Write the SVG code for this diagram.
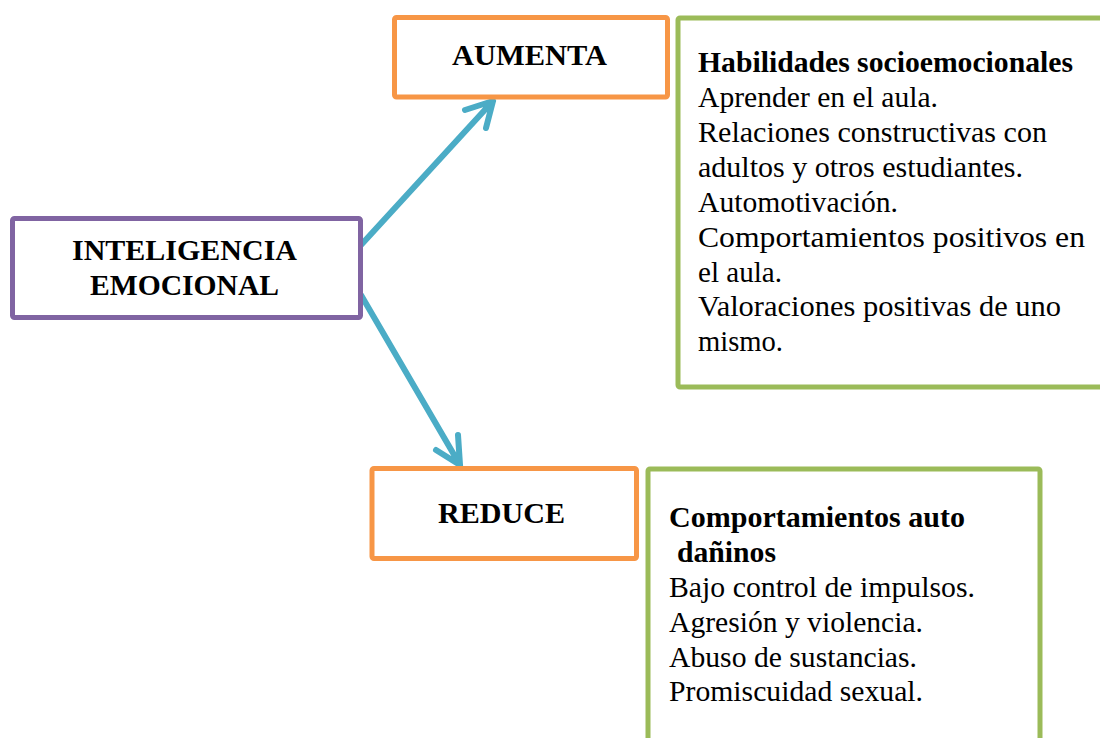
<svg xmlns="http://www.w3.org/2000/svg" width="1100" height="738" viewBox="0 0 1100 738">
<style>
.box{fill:#fff;stroke-width:5;stroke-linejoin:round}
.p{stroke:#8064A2}
.o{stroke:#F79646}
.g{stroke:#9BBB59}
.t{font-family:"Liberation Serif","Times New Roman",serif;font-size:29px;fill:#000}
.b{font-weight:bold}
.h{font-weight:bold;font-size:30px}
.arr{fill:none;stroke:#4BACC6;stroke-width:6;stroke-linecap:round;stroke-linejoin:round}
</style>
<rect width="1100" height="738" fill="#fff"/>
<g id="connectors">
<path class="arr" d="M361,245 L493,101 M465,110 L493,101 L486,128"/>
<path class="arr" d="M361,295 L460,465 M436,450 L460,465 L458,435"/>
</g>
<g id="inteligencia">
<rect class="box p" x="12.5" y="218.5" width="348" height="99" rx="2"/>
<text class="t h" x="72" y="260" textLength="225" lengthAdjust="spacingAndGlyphs">INTELIGENCIA</text>
<text class="t h" x="90" y="295" textLength="189" lengthAdjust="spacingAndGlyphs">EMOCIONAL</text>
</g>
<g id="aumenta">
<rect class="box o" x="394.5" y="17.5" width="273" height="79.5" rx="2"/>
<text class="t h" x="452" y="65" textLength="155" lengthAdjust="spacingAndGlyphs">AUMENTA</text>
</g>
<g id="reduce">
<rect class="box o" x="372" y="468.5" width="264.5" height="90" rx="2"/>
<text class="t h" x="438" y="523" textLength="127" lengthAdjust="spacingAndGlyphs">REDUCE</text>
</g>
<g id="habilidades">
<rect class="box g" x="678" y="18" width="440" height="369" rx="2"/>
<text class="t b" x="698" y="72" textLength="375" lengthAdjust="spacingAndGlyphs">Habilidades socioemocionales</text>
<text class="t" x="698" y="107" textLength="240" lengthAdjust="spacingAndGlyphs">Aprender en el aula.</text>
<text class="t" x="698" y="142" textLength="349" lengthAdjust="spacingAndGlyphs">Relaciones constructivas con</text>
<text class="t" x="698" y="177" textLength="325" lengthAdjust="spacingAndGlyphs">adultos y otros estudiantes.</text>
<text class="t" x="698" y="212" textLength="200" lengthAdjust="spacingAndGlyphs">Automotivación.</text>
<text class="t" x="698" y="247" textLength="387" lengthAdjust="spacingAndGlyphs">Comportamientos  positivos  en</text>
<text class="t" x="698" y="282" textLength="84" lengthAdjust="spacingAndGlyphs">el aula.</text>
<text class="t" x="698" y="316" textLength="363" lengthAdjust="spacingAndGlyphs">Valoraciones positivas de uno</text>
<text class="t" x="698" y="351" textLength="85" lengthAdjust="spacingAndGlyphs">mismo.</text>
</g>
<g id="comportamientos">
<rect class="box g" x="648" y="469" width="392" height="300" rx="2"/>
<text class="t b" x="669" y="527" textLength="296" lengthAdjust="spacingAndGlyphs">Comportamientos auto</text>
<text class="t b" x="677" y="562" textLength="99" lengthAdjust="spacingAndGlyphs">dañinos</text>
<text class="t" x="669" y="597" textLength="306" lengthAdjust="spacingAndGlyphs">Bajo control de impulsos.</text>
<text class="t" x="669" y="632" textLength="254" lengthAdjust="spacingAndGlyphs">Agresión y violencia.</text>
<text class="t" x="669" y="667" textLength="248" lengthAdjust="spacingAndGlyphs">Abuso de sustancias.</text>
<text class="t" x="669" y="701" textLength="254" lengthAdjust="spacingAndGlyphs">Promiscuidad sexual.</text>
</g>
</svg>
